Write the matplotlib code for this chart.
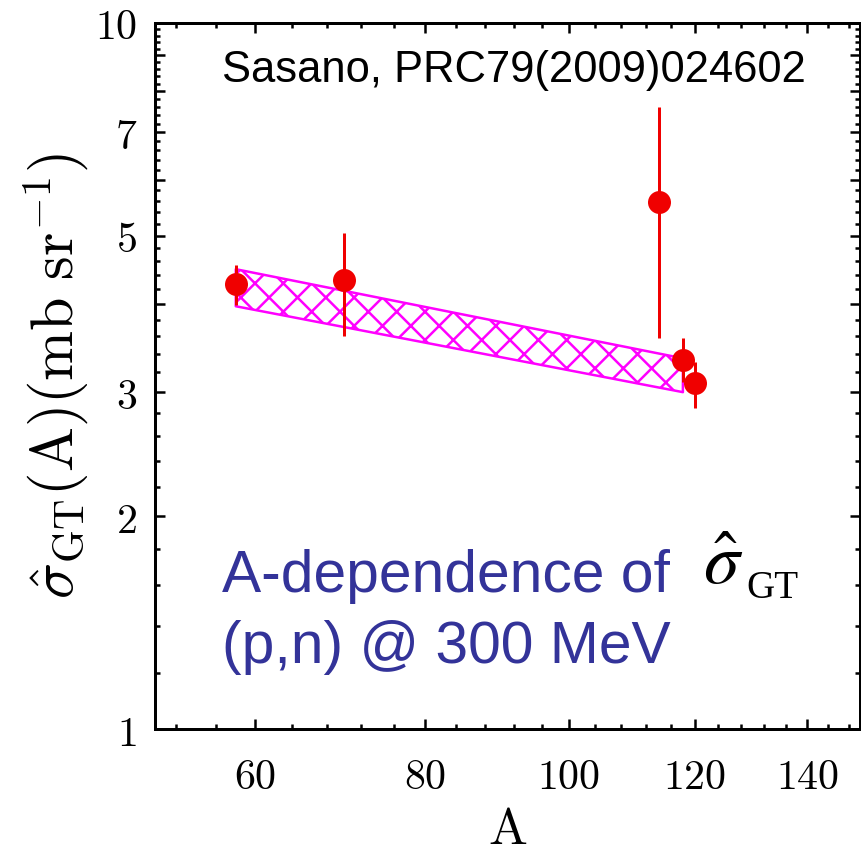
import numpy as np
import matplotlib
matplotlib.use("Agg")
import matplotlib.pyplot as plt
from matplotlib.ticker import FixedLocator, FuncFormatter, NullFormatter

# hatch cell is one inch, so the dpi sets the cross-hatch spacing
DPI = 170
W, H = 861, 854


def pt(px):
    return px * 72.0 / DPI


# measured unit cross sections vs mass number
mass = [58, 70, 114, 118, 120]
sigma = [4.27, 4.32, 5.58, 3.33, 3.09]
sigma_lo = [3.99, 3.60, 3.58, 3.10, 2.85]
sigma_hi = [4.54, 5.04, 7.60, 3.58, 3.31]

# systematics band
band_mass = [58, 118]
band_lo = [3.97, 3.00]
band_hi = [4.48, 3.35]

x_major = [60, 80, 100, 120, 140]
x_minor = [a for a in range(52, 150, 4) if a not in x_major]
y_major = list(range(1, 11))
y_labeled = [1, 2, 3, 5, 7, 10]
y_minor = [round(v, 1) for v in np.arange(1.2, 10.0, 0.2) if abs(v - round(v)) > 1e-6]

RED = "#f00000"
MAG = "#ff00ff"
BLUE = "#333399"

plt.rcParams["mathtext.fontset"] = "cm"
plt.rcParams["hatch.color"] = MAG
plt.rcParams["hatch.linewidth"] = pt(2.5)

fig = plt.figure(figsize=(W / DPI, H / DPI), dpi=DPI)
ax = fig.add_axes([155 / W, 1 - 729 / H, (859.5 - 155) / W, (729 - 23) / H])

ax.set_xscale("function", functions=(np.cbrt, lambda c: np.power(c, 3)))
ax.set_yscale("log")
ax.set_xlim(50, 150)
ax.set_ylim(1, 10)

ax.fill_between(band_mass, band_lo, band_hi, facecolor="none", edgecolor=MAG,
                hatch="xx", linewidth=pt(2.5), zorder=2)

yerr = [np.subtract(sigma, sigma_lo), np.subtract(sigma_hi, sigma)]
ax.errorbar(mass, sigma, yerr=yerr, fmt="o", color=RED, ms=pt(23), mew=0,
            elinewidth=pt(3), capsize=0, zorder=3)

# ticks
ax.xaxis.set_major_locator(FixedLocator(x_major))
ax.xaxis.set_minor_locator(FixedLocator(x_minor))
ax.xaxis.set_major_formatter(FuncFormatter(lambda v, p: f"${v:g}$"))
ax.xaxis.set_minor_formatter(NullFormatter())

ax.yaxis.set_major_locator(FixedLocator(y_major))
ax.yaxis.set_minor_locator(FixedLocator(y_minor))
ax.yaxis.set_major_formatter(FuncFormatter(
    lambda v, p: f"${v:g}$" if round(v) in y_labeled else ""))
ax.yaxis.set_minor_formatter(NullFormatter())

ax.tick_params(which="both", direction="in", top=True, right=True,
               width=pt(2.5), colors="black")
ax.tick_params(which="major", length=pt(10), labelsize=pt(42))
ax.tick_params(which="minor", length=pt(5))
ax.tick_params(axis="x", which="major", pad=pt(27))
ax.tick_params(axis="y", which="major", pad=pt(18))
for s in ax.spines.values():
    s.set_linewidth(pt(3))

ax.set_ylabel(r"$\hat{\sigma}_{\rm GT}({\rm A})({\rm mb\ sr}^{-1})$", fontsize=pt(60))
ax.yaxis.set_label_coords(-0.091, 0.5)
ax.set_xlabel(r"$\rm A$", fontsize=pt(52))
ax.xaxis.label.set_va("baseline")
ax.xaxis.set_label_coords(0.5, -0.163)

# annotations
fig.text(222 / W, 1 - 82 / H, "Sasano, PRC79(2009)024602", fontsize=pt(43.5),
         family="Liberation Sans", color="black", va="baseline", ha="left")
fig.text(222 / W, 1 - 592 / H, "A-dependence of", fontsize=pt(58.8),
         family="Liberation Sans", color=BLUE, va="baseline", ha="left")
fig.text(222 / W, 1 - 663 / H, "(p,n) @ 300 MeV", fontsize=pt(58.8),
         family="Liberation Sans", color=BLUE, va="baseline", ha="left")
fig.text(703 / W, 1 - 583 / H, r"$\hat{\sigma}$", fontsize=pt(72),
         math_fontfamily="stix", color="black", va="baseline", ha="left")
fig.text(746 / W, 1 - 598 / H, "GT", fontsize=pt(39),
         family="Liberation Serif", color="black", va="baseline", ha="left")

fig.savefig("out.png", dpi=DPI, facecolor="white")
